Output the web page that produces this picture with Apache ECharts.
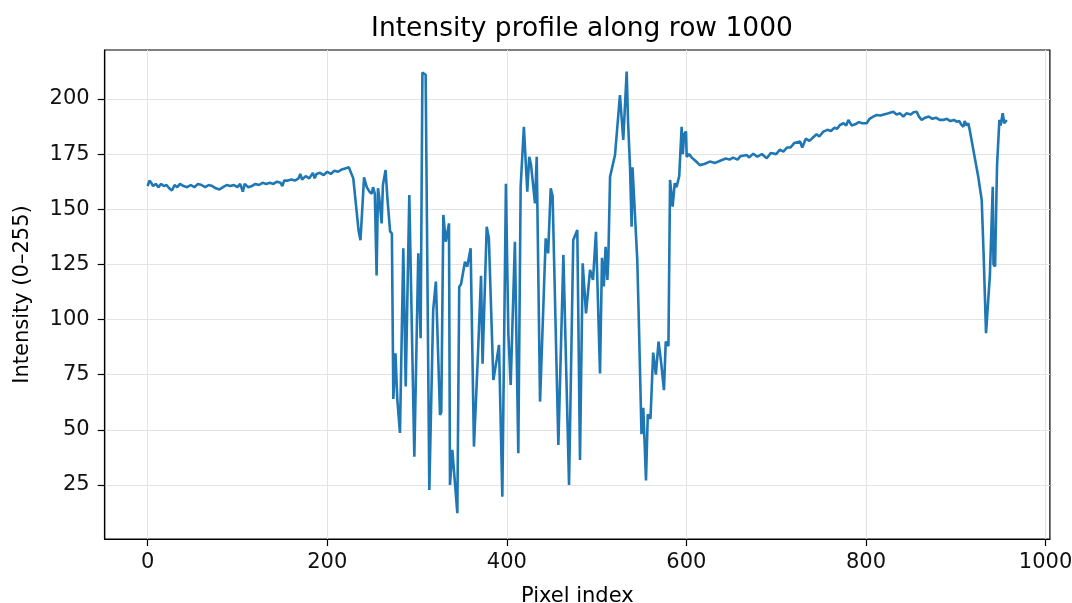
<!DOCTYPE html>
<html>
<head>
<meta charset="utf-8">
<script src="https://cdn.jsdelivr.net/npm/echarts@6/dist/echarts.min.js"></script>
<style>html,body{margin:0;padding:0;background:#fff}#c{width:1072px;height:603px}</style>
</head>
<body>
<div id="c"></div>
<script>
const titleText = "Intensity profile along row 1000";
const xLabel = "Pixel index";
const yLabel = "Intensity (0\u2013255)";
const xTicks = [0, 200, 400, 600, 800, 1000];
const yTicks = [25, 50, 75, 100, 125, 150, 175, 200];

const pixelIndex = [
0,2,4,6,9,12,15,18,21,24,27,30,33,36,40,44,48,52,56,60,64,68,72,76,80,84,88,92,96,100,103,106,108,112,116,120,124,128,132,136,140,144,148,150,152,156,160,164,168,170,172,176,180,184,186,188,192,196,200,204,208,212,216,220,224,226,
229,232,235,237,239,241,244,247,249.5,251,253,255,256.5,258,260.6,262,265,267,270,272,273.6,276,278,281,284.7,287.4,291.4,297,301.4,304,306,309.6,313.7,318,321,325.6,327,329.3,332,335.6,336.7,339.3,341,344.9,347,349,353.4,356,359.7,363.4,367.6,371.3,373,377.6,380,385,388.7,391.3,395,399,401.7,404.3,409,412.8,415.4,419,422.8,425,427,431.4,433.3,437,443.3,446,448.9,451,457.4,463,469.3,474,478.5,481.5,484.5,488.2,492.7,496,499.3,503.8,
506,508,510,512,513,515,520.5,526,529.7,533.5,535,537.2,539,540,545.3,547,550,552,555,557,560,563,566,569,572,575,577,580,581.8,584.7,587,589,592,594.7,596,597.5,599.6,600.3,603,606,610,615,620,626,632,637.6,644,648,652,657,660,667,670,674.5,679,684,689.5,694,700,704,708,712,716,720,726.6,729,733,737,741,745,748,752.5,757,761,765,768,771,775,778,780.4,784,788,792,796,800.8,804,808,812,816,820,825,830.5,834,838,841.6,845,850,853,856.5,859,862,866,870,874,878,882,886.2,890,894,898,901,904,906,908.5,910,912,914,915.9,919.6,925,928.9,931,933.7,935,938,941.2,942,943.8,945,946,948.6,950,952.3,954,955,956.8
];
const intensity = [
160.5,163,162,160.5,161.5,160,161.5,160.5,161,159.5,158.5,161,160,161.5,160.5,160,161,160,161.5,161,160,161,160.5,159.5,159,160,161,160.5,161,160,161.5,158,161.5,160,160.5,161.5,161,162,161.5,162,161.5,162.5,162,160.5,163,163,163.5,163,164,166,163.5,165,164,166.5,164,166,166.5,165.5,167,166,167.5,167,168,168.5,169,169.5,
164,152,140,136,150,164.5,160,158,157,160,157,120,159.5,155,143.6,161,167.8,155,140,139,64,84.7,64,48.6,132.3,69.6,156.5,37.8,130,91.5,212,211,22.7,104.3,117.2,56.7,58,147.4,135.3,143.6,25,40.9,40,12.2,114.9,116,126.2,124,132.3,42.4,81.7,119.8,80,142.1,137,72.6,81.7,88.5,19.7,161.5,93.8,70.3,135.3,39.4,160.2,187.4,158,173.8,170,152.7,173.8,62.8,136.8,130,159.5,156,43.1,129.3,25,136.1,140.6,36.3,125.5,102.8,122.5,118,139.8,75.6,
128,115,133,118,127,164.8,174.6,201.8,181.4,212.4,190,169.3,142.1,169,127,100,48,60,27,57,55,85,75,90,80,68,90,88,163.3,151.2,161.8,160,165,187.4,175,184,185.2,173.8,175,173.4,172,170,170.5,171.6,171,172,173,172.5,173.4,172.5,174,174.6,173.5,175.2,173.8,175,173.1,175.5,175,177,176.1,178,178,180,180.7,178,182,181,182.5,184,183,185.2,186,185.5,187,186.5,188.2,189,188,190.5,188,188.5,189.5,189,189,191,192,192.7,192.5,193,193.5,194.2,193,193.5,192,193.5,193,194,194.2,192,190.5,191.5,192,191,191.5,190.5,190.5,191,190,190.5,189.7,190,188.5,187.4,190,188,189,185.2,176.9,164.8,154.2,130,93.8,94,120,160.2,125,124,150,170,190.5,188,193.5,189,188.2,190.5
];

const points = pixelIndex.map((x, i) => [x, intensity[i]]);
const FONT = "DejaVu Sans";
const chart = echarts.init(document.getElementById('c'), null, {renderer: 'canvas'});
chart.setOption({
  animation: false,
  backgroundColor: '#ffffff',
  title: {
    text: titleText, left: 577, top: 11, textAlign: 'center',
    textStyle: {fontFamily: FONT, fontSize: 26.5, fontWeight: 'normal', color: '#000'}
  },
  grid: {left: 104.7, right: 22.1, top: 50, bottom: 64, show: true, borderColor: '#000', borderWidth: 1.2, backgroundColor: 'transparent', outerBoundsMode: 'none', containLabel: false},
  xAxis: {
    type: 'value', min: -47.85, max: 1004.85,
    name: xLabel, nameLocation: 'middle', nameGap: 47,
    nameTextStyle: {fontFamily: FONT, fontSize: 21, color: '#000'},
    axisLine: {show: true, onZero: false, lineStyle: {color: '#000', width: 1.2}},
    axisTick: {show: true, length: 7, lineStyle: {color: '#000', width: 1.2}, customValues: xTicks},
    axisLabel: {fontFamily: FONT, fontSize: 21, color: '#111', margin: 13, customValues: xTicks, formatter: v => String(v)},
    splitLine: {show: true, lineStyle: {color: '#e3e3e3', width: 1}}
  },
  yAxis: {
    type: 'value', min: 0.5, max: 222.2,
    name: yLabel, nameLocation: 'middle', nameGap: 72,
    nameTextStyle: {fontFamily: FONT, fontSize: 21, color: '#000'},
    axisLine: {show: true, onZero: false, lineStyle: {color: '#000', width: 1.2}},
    axisTick: {show: true, length: 7, lineStyle: {color: '#000', width: 1.2}, customValues: yTicks},
    axisLabel: {fontFamily: FONT, fontSize: 21, color: '#111', margin: 15, customValues: yTicks, formatter: v => String(v)},
    splitLine: {show: true, lineStyle: {color: '#e3e3e3', width: 1}}
  },
  series: [{
    type: 'line', data: points, showSymbol: false, symbol: 'none',
    lineStyle: {color: '#1f77b4', width: 2.6}, z: 3
  }]
});
</script>
</body>
</html>
